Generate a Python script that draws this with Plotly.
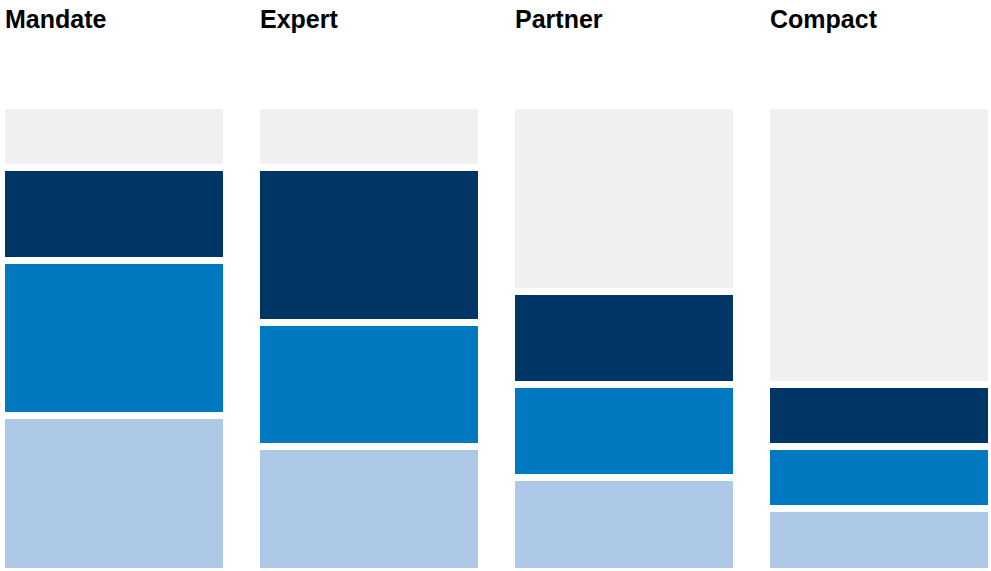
import plotly.graph_objects as go

categories = ["Mandate", "Expert", "Partner", "Compact"]
# values in units of 15 per column, bottom to top
light_vals = [5, 4, 3, 2]
blue_vals = [5, 4, 3, 2]
navy_vals = [3, 5, 3, 2]
gray_vals = [2, 2, 6, 9]

series = [
    ("Light", light_vals, "#AEC8E7"),
    ("Blue", blue_vals, "#0079C1"),
    ("Navy", navy_vals, "#003665"),
    ("Gray", gray_vals, "#F0F0F0"),
]

fig = go.Figure()
for name, vals, color in series:
    fig.add_trace(go.Bar(
        x=categories, y=vals, name=name,
        marker=dict(color=color, line=dict(color="white", width=7)),
        width=0.882, hoverinfo="skip",
    ))

for i, c in enumerate(categories):
    fig.add_annotation(
        x=i - 0.4275, y=1, xref="x", yref="paper",
        xshift=-2, yshift=102, xanchor="left", yanchor="top",
        text=f"<b>{c}</b>", showarrow=False,
        font=dict(family="Liberation Sans, Arial, sans-serif", size=25, color="#000000"),
    )

fig.update_layout(
    barmode="stack",
    width=991, height=571,
    margin=dict(l=0, r=0, t=105, b=0),
    paper_bgcolor="white", plot_bgcolor="white",
    showlegend=False,
    xaxis=dict(range=[-0.447, 3.439], visible=False, type="category"),
    yaxis=dict(range=[0, 15.03], visible=False),
)
fig.write_html("out.html", config={"displayModeBar": False},
               post_script="document.body.style.margin='0';")
